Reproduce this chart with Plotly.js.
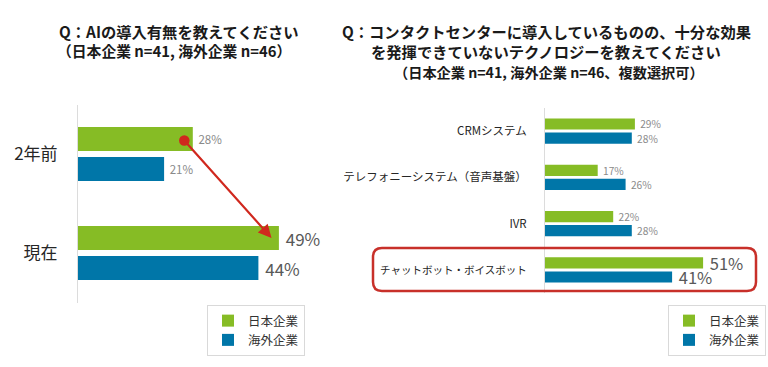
<!DOCTYPE html>
<html>
<head>
<meta charset="utf-8">
<script src="https://cdn.plot.ly/plotly-3.0.1.min.js"></script>
<style>html,body{margin:0;padding:0;background:#fff;}#chart{width:768px;height:367px;}</style>
</head>
<body>
<div id="chart"></div>
<script>
// ---- data ----
const seriesNames = ["日本企業", "海外企業"];
const leftCategories = ["2年前", "現在"];
const leftJapan = [28, 49];
const leftOverseas = [21, 44];
const rightCategories = ["CRMシステム", "テレフォニーシステム（音声基盤）", "IVR", "チャットボット・ボイスボット"];
const rightJapan = [29, 17, 22, 51];
const rightOverseas = [28, 26, 28, 41];
const leftTitle = "Q：AIの導入有無を教えてください";
const leftSubtitle = "（日本企業 n=41, 海外企業 n=46）";
const rightTitle1 = "Q：コンタクトセンターに導入しているものの、十分な効果";
const rightTitle2 = "を発揮できていないテクノロジーを教えてください";
const rightSubtitle = "（日本企業 n=41, 海外企業 n=46、複数選択可）";

// ---- style ----
const GREEN = "#86BC25", BLUE = "#0076A8", RED = "#D0281E";
const FONT = "'Noto Sans CJK JP', 'Noto Sans', sans-serif";
const W = 768, H = 367;
const px = x => x / W, py = y => (H - y) / H;
const HIGHLIGHT_RIGHT = 3;

function labelSizes(vals, highlightIdx, small, big) {
  return vals.map((v, i) => i === highlightIdx ? big : small);
}
function labelColors(vals, highlightIdx) {
  return vals.map((v, i) => i === highlightIdx ? "#595959" : "#8a8a8a");
}

function barTrace(name, cats, vals, color, xa, ya, lg, hi, small, big) {
  return {type: "bar", orientation: "h", name: name, y: cats, x: vals,
    marker: {color: color}, xaxis: xa, yaxis: ya, legend: lg,
    text: vals.map(v => " " + v + "%"), textposition: "outside", cliponaxis: false, constraintext: "none",
    textfont: {family: FONT, size: labelSizes(vals, hi, small, big), color: labelColors(vals, hi)},
    hoverinfo: "skip"};
}

const traces = [
  barTrace(seriesNames[0], leftCategories, leftJapan, GREEN, "x", "y", "legend", 1, 11.5, 17),
  barTrace(seriesNames[1], leftCategories, leftOverseas, BLUE, "x", "y", "legend", 1, 11.5, 17),
  barTrace(seriesNames[0], rightCategories, rightJapan, GREEN, "x2", "y2", "legend2", HIGHLIGHT_RIGHT, 10.2, 16.5),
  barTrace(seriesNames[1], rightCategories, rightOverseas, BLUE, "x2", "y2", "legend2", HIGHLIGHT_RIGHT, 10.2, 16.5)
];

const leftSpan = 300, rightSpan = 200;
const titleFont = {family: FONT, size: 15.3, color: "#1a1a1a", weight: "bold"};

function ann(text, x, y, font) {
  return {text: text, xref: "paper", yref: "paper", x: px(x), y: py(y), xanchor: "center", yanchor: "middle",
          showarrow: false, font: font};
}

function roundRect(x0, y0, x1, y1, r) {
  const X = px, Y = py;
  return `M ${X(x0 + r)} ${Y(y0)} L ${X(x1 - r)} ${Y(y0)} Q ${X(x1)} ${Y(y0)} ${X(x1)} ${Y(y0 + r)} ` +
         `L ${X(x1)} ${Y(y1 - r)} Q ${X(x1)} ${Y(y1)} ${X(x1 - r)} ${Y(y1)} ` +
         `L ${X(x0 + r)} ${Y(y1)} Q ${X(x0)} ${Y(y1)} ${X(x0)} ${Y(y1 - r)} ` +
         `L ${X(x0)} ${Y(y0 + r)} Q ${X(x0)} ${Y(y0)} ${X(x0 + r)} ${Y(y0)} Z`;
}

const rightTickText = rightCategories.map((c, i) =>
  i === HIGHLIGHT_RIGHT ? `<span style="font-size:10.5px">${c}</span>` : c);

const greenOffsetLeft = -15 / 99;

const layout = {
  width: W, height: H,
  margin: {l: 0, r: 0, t: 0, b: 0},
  paper_bgcolor: "#ffffff", plot_bgcolor: "rgba(0,0,0,0)",
  font: {family: FONT, color: "#262626"},
  barmode: "group",
  bargap: 0.394, bargroupgap: 0.2,
  showlegend: true,
  xaxis: {domain: [px(78), px(78 + leftSpan)], range: [0, leftSpan / 4.1], visible: false},
  yaxis: {domain: [py(302.5), py(104.5)], autorange: "reversed", type: "category",
          showline: true, linecolor: "#dcdcdc", linewidth: 1, showgrid: false, zeroline: false,
          ticks: "outside", ticklen: 16, tickcolor: "rgba(0,0,0,0)",
          tickfont: {family: FONT, size: 17, color: "#262626"}},
  xaxis2: {domain: [px(545), px(545 + rightSpan)], range: [0, rightSpan / 3.1], visible: false, anchor: "y2"},
  yaxis2: {domain: [py(293.15), py(107.85)], autorange: "reversed", type: "category", anchor: "x2",
           showline: true, linecolor: "#dcdcdc", linewidth: 1, showgrid: false, zeroline: false,
           tickmode: "array", tickvals: rightCategories, ticktext: rightTickText,
           ticks: "outside", ticklen: 15, tickcolor: "rgba(0,0,0,0)",
           tickfont: {family: FONT, size: 11.5, color: "#262626"}},
  legend: {x: px(207), y: py(305), xanchor: "left", yanchor: "top", bordercolor: "#d9d9d9", borderwidth: 1,
           bgcolor: "#ffffff", font: {family: FONT, size: 12.5, color: "#333"}, tracegroupgap: 0,
           itemwidth: 30},
  legend2: {x: px(668), y: py(305), xanchor: "left", yanchor: "top", bordercolor: "#d9d9d9", borderwidth: 1,
            bgcolor: "#ffffff", font: {family: FONT, size: 12.5, color: "#333"}, tracegroupgap: 0,
            itemwidth: 30},
  annotations: [
    ann(leftTitle, 179, 31, titleFont),
    ann(leftSubtitle, 174, 50, {family: FONT, size: 14.8, color: "#1a1a1a", weight: "bold"}),
    ann(rightTitle1, 546, 31, titleFont),
    ann(rightTitle2, 546, 51, titleFont),
    ann(rightSubtitle, 549, 72, {family: FONT, size: 14.2, color: "#1a1a1a", weight: "bold"}),
    {xref: "x", yref: "y", axref: "x", ayref: "y",
     x: leftJapan[1] - 1.8, y: 1 + greenOffsetLeft,
     ax: leftJapan[0] - 2.4, ay: 0 + greenOffsetLeft,
     text: "", showarrow: true, arrowhead: 2, arrowsize: 1.2, arrowwidth: 2.2, arrowcolor: RED,
     arrowside: "end+start", startarrowhead: 6, startarrowsize: 1.2, standoff: 0, startstandoff: 0}
  ],
  shapes: [
    {type: "path", xref: "paper", yref: "paper", path: roundRect(373, 248, 756, 291, 9),
     line: {color: "#C8302A", width: 2.5}, fillcolor: "rgba(0,0,0,0)"}
  ]
};

Plotly.newPlot("chart", traces, layout, {displayModeBar: false, staticPlot: true});
</script>
</body>
</html>
